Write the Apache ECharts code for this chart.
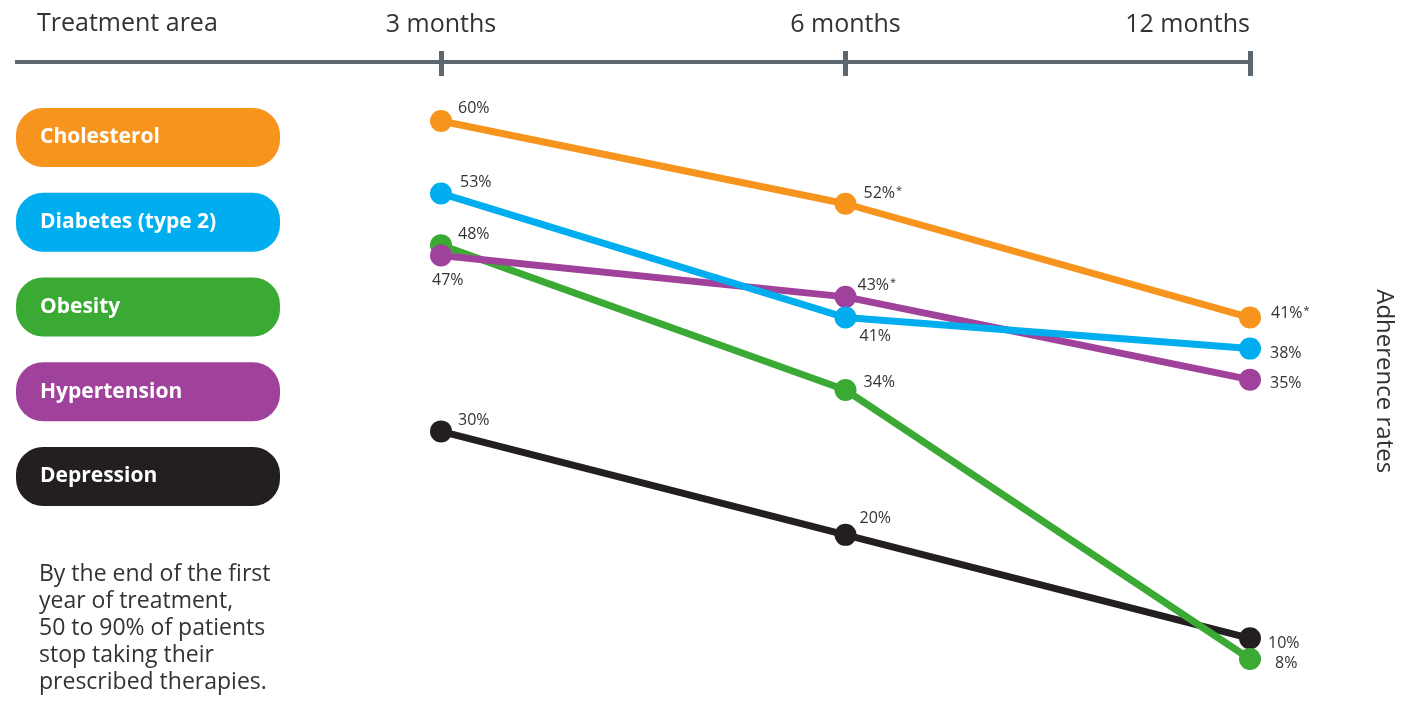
<!DOCTYPE html>
<html>
<head>
<meta charset="utf-8">
<script src="https://cdn.jsdelivr.net/npm/echarts@6/dist/echarts.min.js"></script>
<style>html,body{margin:0;padding:0;background:#fff;overflow:hidden;}#c{width:1409px;height:701px;}</style>
</head>
<body>
<div id="c"></div>
<script>
// ---- data ----
const categories = ['3 months', '6 months', '12 months'];
const seriesNames = ['Cholesterol', 'Diabetes (type 2)', 'Obesity', 'Hypertension', 'Depression'];
const cholesterol = [60, 52, 41];
const diabetes = [53, 41, 38];
const obesity = [48, 34, 8];
const hypertension = [47, 43, 35];
const depression = [30, 20, 10];
// points whose labels carry a footnote asterisk (index into categories)
const cholesterolStarred = [1, 2];
const hypertensionStarred = [1];
const headerLabel = 'Treatment area';
const axisName = 'Adherence rates';
const noteLines = ['By the end of the first', 'year of treatment,', '50 to 90% of patients', 'stop taking their', 'prescribed therapies.'];

// ---- styles ----
const FONT = '"Open Sans", "Noto Sans", sans-serif';
const TXT = '#333333';
const AXIS = '#5c6770';
const colors = {
  'Cholesterol': '#f7941d',
  'Diabetes (type 2)': '#00aeef',
  'Obesity': '#3aaa35',
  'Hypertension': '#a0429b',
  'Depression': '#231f20'
};
const valuesByName = {
  'Cholesterol': cholesterol,
  'Diabetes (type 2)': diabetes,
  'Obesity': obesity,
  'Hypertension': hypertension,
  'Depression': depression
};
const starredByName = {
  'Cholesterol': cholesterolStarred,
  'Hypertension': hypertensionStarred
};
// label placement (offsets from the default 'right' label position)
const labelOffsets = {
  'Cholesterol': [[1, -13], [2, -10], [5, -4]],
  'Diabetes (type 2)': [[3, -11], [-2, 19], [4, 5]],
  'Obesity': [[1, -11], [2, -8], [9, 4]],
  'Hypertension': [[-25, 25], [-4, -11], [4, 4]],
  'Depression': [[1, -11], [-2, -16], [2, 5]]
};
const drawOrder = ['Depression', 'Obesity', 'Hypertension', 'Diabetes (type 2)', 'Cholesterol'];

const series = drawOrder.map(name => {
  const starred = starredByName[name] || [];
  return {
    name: name,
    type: 'line',
    xAxisIndex: 0,
    yAxisIndex: 0,
    symbol: 'circle',
    symbolSize: 22,
    lineStyle: { width: 7, color: colors[name] },
    itemStyle: { color: colors[name] },
    emphasis: { disabled: true },
    label: {
      show: true,
      position: 'right',
      fontFamily: FONT,
      fontSize: 16,
      color: TXT,
      rich: { s: { fontFamily: FONT, fontSize: 11, color: TXT, verticalAlign: 'top', padding: [0, 0, 6, 1] } }
    },
    data: valuesByName[name].map((v, i) => ({
      value: v,
      label: {
        offset: labelOffsets[name][i],
        formatter: v + '%' + (starred.indexOf(i) >= 0 ? '{s|*}' : '')
      }
    }))
  };
});

const pillTop = 108, pillStep = 84.75, pillH = 59;
const graphics = [];
seriesNames.forEach((name, i) => {
  graphics.push({
    type: 'group',
    left: 16,
    top: pillTop + i * pillStep,
    children: [
      { type: 'rect', shape: { x: 0, y: 0, width: 264, height: pillH, r: 27 }, style: { fill: colors[name] } },
      { type: 'text', x: 24, y: pillH / 2, style: { text: name, fill: '#fff', font: 'bold 21px ' + FONT, textVerticalAlign: 'middle' } }
    ]
  });
});
graphics.push({ type: 'line', shape: { x1: 15, y1: 62, x2: 441, y2: 62 }, style: { stroke: AXIS, lineWidth: 4 } });
graphics.push({ type: 'text', left: 37, top: 11, style: { text: headerLabel, fill: TXT, font: '25px ' + FONT } });
graphics.push({ type: 'text', left: 39, top: 561, style: { text: noteLines.join('\n'), fill: TXT, font: '23px ' + FONT, lineHeight: 27 } });

const chart = echarts.init(document.getElementById('c'));
chart.setOption({
  animation: false,
  backgroundColor: '#fff',
  grid: { left: 441, right: 159, top: 62, height: 638.4, containLabel: false },
  xAxis: [
    {
      type: 'category', data: categories, position: 'top', boundaryGap: false,
      axisLine: { show: true, lineStyle: { color: AXIS, width: 4 } },
      axisTick: { show: true, length: 11, lineStyle: { color: AXIS, width: 5 } },
      axisLabel: { fontFamily: FONT, fontSize: 25, color: TXT, margin: 25, alignMaxLabel: 'right' },
      splitLine: { show: false }
    },
    {
      type: 'category', data: categories, position: 'top', boundaryGap: false,
      axisLine: { show: false },
      axisTick: { show: true, inside: true, length: 14, lineStyle: { color: AXIS, width: 5 } },
      axisLabel: { show: false },
      splitLine: { show: false }
    }
  ],
  yAxis: {
    type: 'value', min: 4, max: 65.7, position: 'right',
    axisLine: { show: false }, axisTick: { show: false }, axisLabel: { show: false }, splitLine: { show: false },
    name: axisName, nameLocation: 'middle', nameRotate: -90, nameGap: 122,
    nameTextStyle: { fontFamily: FONT, fontSize: 24, color: TXT }
  },
  graphic: graphics,
  series: series
});
</script>
</body>
</html>
